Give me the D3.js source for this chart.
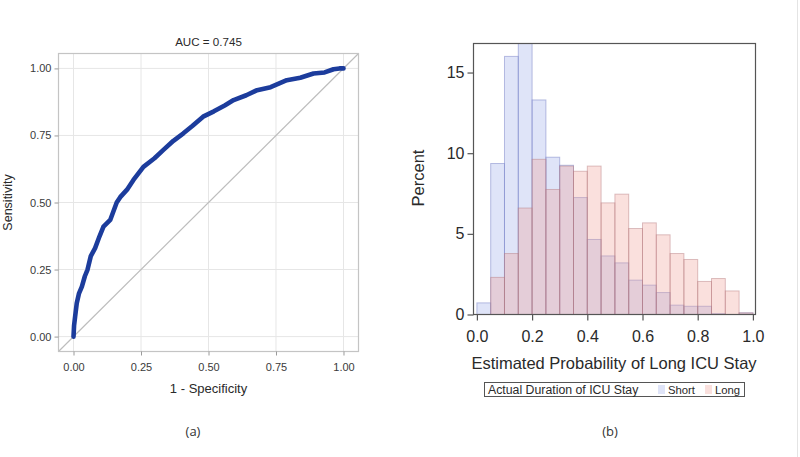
<!DOCTYPE html>
<html>
<head>
<meta charset="utf-8">
<script src="https://cdn.jsdelivr.net/npm/d3@7"></script>
<style>
  html, body { margin: 0; padding: 0; background: #fff; }
  svg { display: block; }
</style>
</head>
<body>
<svg id="chart" width="800" height="457"></svg>
<script>
// ROC curve points
const rocFpr = [0, 0.002, 0.006, 0.012, 0.02, 0.031, 0.042, 0.052, 0.064, 0.08, 0.096, 0.111, 0.136, 0.16, 0.173, 0.2, 0.222, 0.259, 0.3, 0.333, 0.37, 0.407, 0.44, 0.48, 0.52, 0.56, 0.593, 0.64, 0.68, 0.73, 0.79, 0.84, 0.889, 0.93, 0.963, 0.985, 1];
const rocTpr = [0, 0.04, 0.075, 0.124, 0.16, 0.186, 0.225, 0.25, 0.30, 0.33, 0.373, 0.41, 0.435, 0.5, 0.52, 0.55, 0.584, 0.633, 0.665, 0.696, 0.73, 0.758, 0.785, 0.82, 0.84, 0.862, 0.882, 0.9, 0.919, 0.93, 0.956, 0.965, 0.981, 0.985, 0.997, 1.0, 1.0];
const rocTicks = [0, 0.25, 0.5, 0.75, 1];
const aucLabel = 'AUC = 0.745';

// histogram bins (width 0.05) and percents
const binStart = [0, 0.05, 0.1, 0.15, 0.2, 0.25, 0.3, 0.35, 0.4, 0.45, 0.5, 0.55, 0.6, 0.65, 0.7, 0.75, 0.8, 0.85, 0.9, 0.95];
const binEnd   = [0.05, 0.1, 0.15, 0.2, 0.25, 0.3, 0.35, 0.4, 0.45, 0.5, 0.55, 0.6, 0.65, 0.7, 0.75, 0.8, 0.85, 0.9, 0.95, 1.0];
const shortPct = [0.72, 9.36, 16.0, 17.5, 13.3, 9.75, 9.25, 7.25, 4.65, 3.63, 3.2, 2.13, 1.82, 1.36, 0.58, 0.51, 0.51, 0.05, 0, 0.1];
const longPct  = [0, 2.3, 3.78, 6.6, 9.62, 7.75, 9.2, 8.88, 9.2, 6.92, 7.46, 5.33, 5.68, 4.94, 3.78, 3.41, 2.05, 2.23, 1.46, 0.1];
const histXTicks = [0, 0.2, 0.4, 0.6, 0.8, 1.0];
const histYTicks = [0, 5, 10, 15];

const svg = d3.select('#chart');
const SANS = '"Liberation Sans", Arial, sans-serif';

// ---------- panel (a): ROC ----------
const ra = { left: 58.5, right: 358.5, top: 53.5, bottom: 351.5 };
const xr = d3.scaleLinear().domain([-0.0556, 1.0556]).range([ra.left, ra.right]);
const yr = d3.scaleLinear().domain([-0.0556, 1.0556]).range([ra.bottom, ra.top]);

const ga = svg.append('g');

// grid
ga.append('g').selectAll('line.v').data(rocTicks).join('line')
  .attr('x1', d => xr(d)).attr('x2', d => xr(d))
  .attr('y1', ra.top).attr('y2', ra.bottom)
  .attr('stroke', '#e6e6e6').attr('stroke-width', 1);
ga.append('g').selectAll('line.h').data(rocTicks).join('line')
  .attr('y1', d => yr(d)).attr('y2', d => yr(d))
  .attr('x1', ra.left).attr('x2', ra.right)
  .attr('stroke', '#e6e6e6').attr('stroke-width', 1);

// diagonal reference
ga.append('line')
  .attr('x1', xr(-0.0556)).attr('y1', yr(-0.0556))
  .attr('x2', xr(1.0556)).attr('y2', yr(1.0556))
  .attr('stroke', '#bdbdbd').attr('stroke-width', 1.2);

// frame
ga.append('rect')
  .attr('x', ra.left).attr('y', ra.top)
  .attr('width', ra.right - ra.left).attr('height', ra.bottom - ra.top)
  .attr('fill', 'none').attr('stroke', '#c4c4c4').attr('stroke-width', 1.2);

// axes
const xAxisA = d3.axisBottom(xr).tickValues(rocTicks).tickFormat(d3.format('.2f')).tickSize(4).tickSizeOuter(0);
const yAxisA = d3.axisLeft(yr).tickValues(rocTicks).tickFormat(d3.format('.2f')).tickSize(4).tickSizeOuter(0);
const gxa = ga.append('g').attr('transform', `translate(0,${ra.bottom})`).call(xAxisA);
const gya = ga.append('g').attr('transform', `translate(${ra.left},0)`).call(yAxisA);
[gxa, gya].forEach(g => {
  g.select('.domain').remove();
  g.selectAll('line').attr('stroke', '#9a9a9a');
  g.selectAll('text').attr('fill', '#3a3a3a').style('font-family', SANS).style('font-size', '11px');
});
gxa.selectAll('text').attr('dy', '1.1em');

// ROC curve
const rocPts = rocFpr.map((f, i) => [f, rocTpr[i]]);
ga.append('path')
  .datum(rocPts)
  .attr('d', d3.line().x(d => xr(d[0])).y(d => yr(d[1])))
  .attr('fill', 'none')
  .attr('stroke', '#1c3c9c')
  .attr('stroke-width', 4.6)
  .attr('stroke-linejoin', 'round')
  .attr('stroke-linecap', 'round');

// texts
ga.append('text').attr('x', (ra.left + ra.right) / 2).attr('y', 46)
  .attr('text-anchor', 'middle').attr('fill', '#2a2a2a')
  .style('font-family', SANS).style('font-size', '11.6px').text(aucLabel);
ga.append('text').attr('x', (ra.left + ra.right) / 2).attr('y', 393)
  .attr('text-anchor', 'middle').attr('fill', '#2a2a2a')
  .style('font-family', SANS).style('font-size', '13px').text('1 - Specificity');
ga.append('text').attr('transform', `translate(12,${(ra.top + ra.bottom) / 2}) rotate(-90)`)
  .attr('text-anchor', 'middle').attr('fill', '#2a2a2a')
  .style('font-family', SANS).style('font-size', '12.5px').text('Sensitivity');
ga.append('text').attr('x', 193).attr('y', 436)
  .attr('text-anchor', 'middle').attr('fill', '#333')
  .style('font-family', '"Open Sans", sans-serif').style('font-size', '13px').text('(a)');

// ---------- panel (b): histogram ----------
const rb = { left: 473.5, right: 755.5, top: 43.5, bottom: 314.5 };
const xh = d3.scaleLinear().domain([-0.0123, 1.0094]).range([rb.left, rb.right]);
const yh = d3.scaleLinear().domain([0, 16.8]).range([rb.bottom, rb.top]);

const gb = svg.append('g');
gb.append('clipPath').attr('id', 'histClip')
  .append('rect').attr('x', rb.left).attr('y', rb.top)
  .attr('width', rb.right - rb.left).attr('height', rb.bottom - rb.top);

const bars = gb.append('g').attr('clip-path', 'url(#histClip)');
const bins = binStart.map((s, i) => ({ s, e: binEnd[i], sh: shortPct[i], lo: longPct[i] }));

bars.append('g').selectAll('rect').data(bins.filter(d => d.sh > 0)).join('rect')
  .attr('x', d => xh(d.s)).attr('width', d => xh(d.e) - xh(d.s))
  .attr('y', d => yh(d.sh)).attr('height', d => yh(0) - yh(d.sh))
  .attr('fill', 'rgb(165,180,235)').attr('fill-opacity', 0.36)
  .attr('stroke', 'rgb(120,130,200)').attr('stroke-opacity', 0.5).attr('stroke-width', 1);

bars.append('g').selectAll('rect').data(bins.filter(d => d.lo > 0)).join('rect')
  .attr('x', d => xh(d.s)).attr('width', d => xh(d.e) - xh(d.s))
  .attr('y', d => yh(d.lo)).attr('height', d => yh(0) - yh(d.lo))
  .attr('fill', 'rgb(240,160,150)').attr('fill-opacity', 0.32)
  .attr('stroke', 'rgb(180,120,125)').attr('stroke-opacity', 0.45).attr('stroke-width', 1);

// frame
gb.append('rect')
  .attr('x', rb.left).attr('y', rb.top)
  .attr('width', rb.right - rb.left).attr('height', rb.bottom - rb.top)
  .attr('fill', 'none').attr('stroke', '#555').attr('stroke-width', 1.2);

// axes
const xAxisB = d3.axisBottom(xh).tickValues(histXTicks).tickFormat(d3.format('.1f')).tickSize(6).tickSizeOuter(0);
const yAxisB = d3.axisLeft(yh).tickValues(histYTicks).tickFormat(d3.format('d')).tickSize(6).tickSizeOuter(0);
const gxb = gb.append('g').attr('transform', `translate(0,${rb.bottom})`).call(xAxisB);
const gyb = gb.append('g').attr('transform', `translate(${rb.left},0)`).call(yAxisB);
[gxb, gyb].forEach(g => {
  g.select('.domain').remove();
  g.selectAll('line').attr('stroke', '#555').attr('stroke-width', 1.2);
  g.selectAll('text').attr('fill', '#2a2a2a').style('font-family', SANS).style('font-size', '16px');
});
gxb.selectAll('text').attr('dy', '1.15em');
gyb.selectAll('text').attr('x', -9);

gb.append('text').attr('x', 614).attr('y', 369)
  .attr('text-anchor', 'middle').attr('fill', '#2a2a2a')
  .style('font-family', SANS).style('font-size', '16.5px').text('Estimated Probability of Long ICU Stay');
gb.append('text').attr('transform', `translate(424,${178}) rotate(-90)`)
  .attr('text-anchor', 'middle').attr('fill', '#2a2a2a')
  .style('font-family', SANS).style('font-size', '16.5px').text('Percent');

// legend
const lg = gb.append('g');
lg.append('rect').attr('x', 484.5).attr('y', 382.5).attr('width', 260).attr('height', 14)
  .attr('fill', 'none').attr('stroke', '#555').attr('stroke-width', 1);
lg.append('text').attr('x', 488).attr('y', 394).attr('fill', '#2a2a2a')
  .style('font-family', SANS).style('font-size', '12.3px').text('Actual Duration of ICU Stay');
const legendItems = [
  { label: 'Short', x: 658, fill: 'rgb(165,180,235)', op: 0.36 },
  { label: 'Long', x: 705, fill: 'rgb(240,160,150)', op: 0.32 }
];
legendItems.forEach(it => {
  lg.append('rect').attr('x', it.x).attr('y', 385).attr('width', 7).attr('height', 9)
    .attr('fill', it.fill).attr('fill-opacity', it.op);
  lg.append('text').attr('x', it.x + 10).attr('y', 394).attr('fill', '#2a2a2a')
    .style('font-family', SANS).style('font-size', '11.3px').text(it.label);
});

gb.append('text').attr('x', 610).attr('y', 436)
  .attr('text-anchor', 'middle').attr('fill', '#333')
  .style('font-family', '"Open Sans", sans-serif').style('font-size', '13px').text('(b)');

// faint right border of the image
svg.append('line').attr('x1', 797.5).attr('x2', 797.5).attr('y1', 0).attr('y2', 457)
  .attr('stroke', '#e4e4e4').attr('stroke-width', 1);
</script>
</body>
</html>
